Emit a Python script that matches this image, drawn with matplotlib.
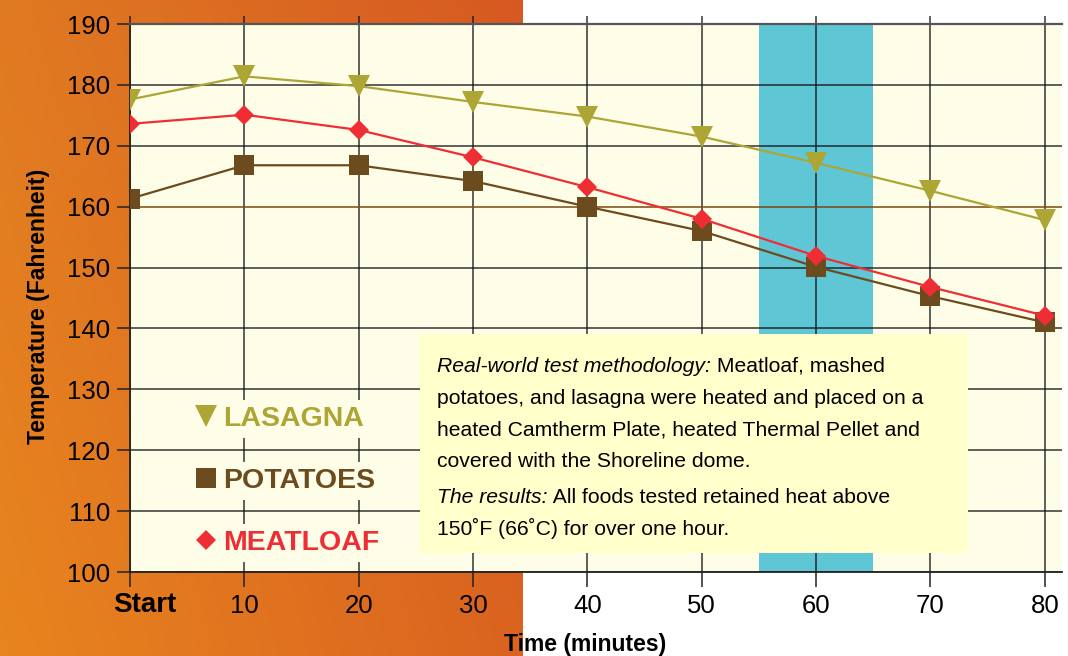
import numpy as np
import matplotlib.pyplot as plt
from matplotlib.lines import Line2D
from matplotlib.patches import Rectangle
from matplotlib import transforms

# data
minutes = [0, 10, 20, 30, 40, 50, 60, 70, 80]
x_labels = ['Start', '10', '20', '30', '40', '50', '60', '70', '80']
y_ticks = [100, 110, 120, 130, 140, 150, 160, 170, 180, 190]
lasagna = [177.6, 181.4, 179.8, 177.2, 174.8, 171.5, 167.2, 162.6, 157.8]
potatoes = [161.3, 166.8, 166.8, 164.2, 160.0, 156.0, 150.1, 145.3, 141.0]
meatloaf = [173.6, 175.1, 172.6, 168.1, 163.2, 158.0, 151.9, 146.8, 142.1]
hold_window = (55, 65)

series_names = ['LASAGNA', 'POTATOES', 'MEATLOAF']
series_colors = ['#ADA534', '#6C4C1E', '#EE2E34']
series_markers = ['v', 's', 'D']
marker_sizes = [16, 15, 10.5]

note_lines = [
    ('Real-world test methodology:', ' Meatloaf, mashed'),
    ('', 'potatoes, and lasagna were heated and placed on a'),
    ('', 'heated Camtherm Plate, heated Thermal Pellet and'),
    ('', 'covered with the Shoreline dome.'),
    ('The results:', ' All foods tested retained heat above'),
    ('', '150\u02daF (66\u02daC) for over one hour.'),
]

W, H = 1068, 656
CREAM = '#FEFDE8'
plt.rcParams['font.family'] = ['Liberation Sans', 'DejaVu Sans']

fig = plt.figure(figsize=(W / 100, H / 100), dpi=100)

# orange gradient panel behind the left part
bg = fig.add_axes([0, 0, 523 / W, 1], zorder=-1)
tl = np.array([0.878, 0.478, 0.133])
tr = np.array([0.840, 0.350, 0.130])
bl = np.array([0.910, 0.520, 0.120])
br = np.array([0.855, 0.390, 0.125])
u = np.linspace(0, 1, 200)[None, :, None]
v = np.linspace(0, 1, 200)[:, None, None]
grad = (1 - v) * ((1 - u) * tl + u * tr) + v * ((1 - u) * bl + u * br)
bg.imshow(grad, aspect='auto', extent=[0, 1, 0, 1])
bg.axis('off')

ax = fig.add_axes([130 / W, 1 - 572 / H, 932 / W, 548 / H])
ax.set_facecolor(CREAM)
ax.set_xlim(0, 81.5)
ax.set_ylim(100, 190)

ax.axvspan(*hold_window, color='#5FC6D6', zorder=0.2, lw=0)

ax.set_axisbelow(True)
ax.set_xticks(minutes)
ax.set_xticklabels(x_labels)
ax.set_yticks(y_ticks)
ax.grid(True, color='#111111', lw=1.1, alpha=0.85)
ax.get_ygridlines()[y_ticks.index(160)].set_color('#7A4A10')
ax.get_ygridlines()[y_ticks.index(160)].set_alpha(1)

# vertical lines poke above the top of the plot
ax.vlines(minutes, 190, 191.3, color='#111111', lw=1.1, alpha=0.85, clip_on=False)

for s in ['left', 'bottom']:
    ax.spines[s].set_color('#222222')
    ax.spines[s].set_linewidth(1.3)
ax.spines['top'].set_color('#555555')
ax.spines['top'].set_linewidth(1.6)
ax.spines['right'].set_visible(False)

ax.tick_params(axis='y', length=9.4, width=1.1, pad=5, labelsize=18.5, color='#222222')
ax.tick_params(axis='x', length=10.8, width=1.1, pad=5, labelsize=18.5, color='#222222')

start_lbl = ax.get_xticklabels()[0]
start_lbl.set_fontweight('bold')
start_lbl.set_fontsize(20)
start_lbl.set_transform(start_lbl.get_transform() +
                        transforms.ScaledTranslation(15 / 100, 2 / 100, fig.dpi_scale_trans))

for vals, c, m, ms in zip([lasagna, potatoes, meatloaf], series_colors, series_markers, marker_sizes):
    ax.plot(minutes, vals, color=c, lw=1.6, marker=m, markersize=ms, markeredgewidth=0, zorder=3)

ax.set_ylabel('Temperature (Fahrenheit)', fontsize=16.5, fontweight='bold')
ax.yaxis.set_label_coords((50 - 130) / 932, (572 - 306) / 548)
ax.set_xlabel('Time (minutes)', fontsize=16.5, fontweight='bold')
ax.xaxis.set_label_coords((585 - 130) / 932, -(633 - 572) / 548)

handles = [Line2D([], [], ls='none', marker=m, color=c, markersize=ms, markeredgewidth=0)
           for c, m, ms in zip(series_colors, series_markers, marker_sizes)]
leg = ax.legend(handles, series_names, loc='center left',
                bbox_to_anchor=((192 - 130) / 932, (572 - 481) / 548),
                frameon=False, borderpad=0, borderaxespad=0, handlelength=1.0,
                handletextpad=0.1, labelspacing=1.26,
                prop={'weight': 'bold', 'size': 20.5})
for t, c in zip(leg.get_texts(), series_colors):
    t.set_color(c)
    t.set_bbox(dict(facecolor=CREAM, edgecolor='none', pad=4))

# note box
fig.add_artist(Rectangle((420 / W, 1 - 553 / H), 548 / W, 219 / H,
                         transform=fig.transFigure, facecolor='#FFFFCC',
                         edgecolor='none', zorder=2))
note_font = ['Liberation Sans', 'DejaVu Sans']
baselines = [372, 404, 435, 467, 503, 535]
fig.canvas.draw()
renderer = fig.canvas.get_renderer()
for (ital, rest), yb in zip(note_lines, baselines):
    x = 437
    if ital:
        t = fig.text(x / W, 1 - yb / H, ital, fontsize=15.2, style='italic',
                     family=note_font, va='baseline', zorder=3)
        x += t.get_window_extent(renderer).width
    fig.text(x / W, 1 - yb / H, rest, fontsize=15.2, family=note_font,
             va='baseline', zorder=3)

fig.savefig('out.png', dpi=100)
